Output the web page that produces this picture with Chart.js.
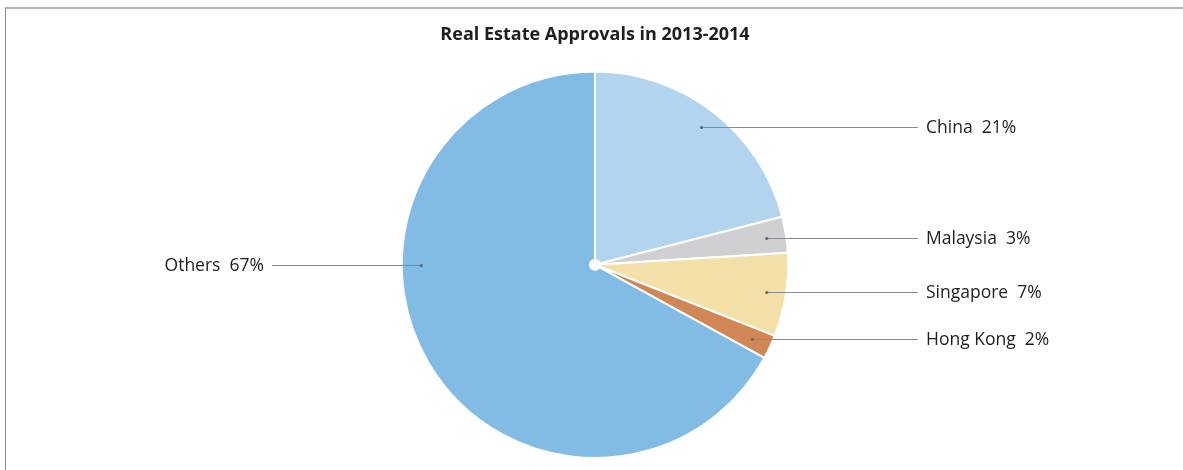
<!DOCTYPE html>
<html>
<head>
<meta charset="utf-8">
<title>Real Estate Approvals in 2013-2014</title>
<script src="https://cdn.jsdelivr.net/npm/chart.js@4"></script>
<style>
  html, body { margin: 0; padding: 0; background: #fff; }
  #frame {
    position: absolute;
    left: 5px;
    top: 7px;
    width: 1180px;
    height: 463px;
    border-top: 2px solid #b4b4b4;
    border-left: 1px solid #8c8c8c;
  }
  #box { position: relative; width: 1180px; height: 461px; }
</style>
</head>
<body>
<div id="frame"><div id="box"><canvas id="approvalsChart"></canvas></div></div>
<script>
const categories = ["China", "Malaysia", "Singapore", "Hong Kong", "Others"];
const shares = [21, 3, 7, 2, 67]; // percent of approvals

// leader lines + labels, drawn next to the slices
const leaderLabels = {
  id: "leaderLabels",
  afterDatasetsDraw(chart, args, opts) {
    const ctx = chart.ctx;
    const meta = chart.getDatasetMeta(0);
    let cx = 0, cy = 0;
    ctx.save();
    ctx.font = opts.font;
    ctx.textBaseline = "middle";
    meta.data.forEach((arc, i) => {
      const p = arc.getProps(["x", "y", "startAngle", "endAngle", "outerRadius"], true);
      cx = p.x;
      cy = p.y;
      let mid = (p.startAngle + p.endAngle) / 2;
      if (opts.level.includes(i)) mid = Math.PI; // run level with the centre
      const r = p.outerRadius * 0.9;
      const px = p.x + Math.cos(mid) * r;
      const py = p.y + Math.sin(mid) * r;
      const right = Math.cos(mid) >= 0;
      const end = right ? p.x + opts.reach : p.x - opts.reach;

      ctx.strokeStyle = "#8a8a8a";
      ctx.lineWidth = 1;
      ctx.beginPath();
      ctx.moveTo(px, Math.round(py) + 0.5);
      ctx.lineTo(end, Math.round(py) + 0.5);
      ctx.stroke();

      ctx.fillStyle = "#666";
      ctx.beginPath();
      ctx.arc(px, Math.round(py) + 0.5, 1.6, 0, Math.PI * 2);
      ctx.fill();

      const text = categories[i] + "  " + shares[i] + "%";
      ctx.fillStyle = "#1e1e1e";
      ctx.textAlign = right ? "left" : "right";
      ctx.fillText(text, right ? end + 8 : end - 8, Math.round(py) + 1);
    });
    // white hub in the middle
    ctx.fillStyle = "#fff";
    ctx.beginPath();
    ctx.arc(cx, cy, 6, 0, Math.PI * 2);
    ctx.fill();
    ctx.restore();
  },
};

const ctx = document.getElementById("approvalsChart").getContext("2d");
new Chart(ctx, {
  type: "pie",
  data: {
    labels: categories,
    datasets: [
      {
        data: shares,
        backgroundColor: ["#b3d4ee", "#d0d0d2", "#f2e0a8", "#d08655", "#82bce4"],
        borderColor: "#ffffff",
        borderWidth: 2,
      },
    ],
  },
  options: {
    responsive: true,
    maintainAspectRatio: false,
    animation: false,
    layout: { padding: { bottom: 11, left: 0, right: 2 } },
    plugins: {
      legend: { display: false },
      tooltip: { enabled: false },
      title: {
        display: true,
        text: "Real Estate Approvals in 2013-2014",
        color: "#1e1e1e",
        font: { family: "'Open Sans', sans-serif", size: 18, weight: "bold" },
        padding: { top: 15, bottom: 25 },
      },
      leaderLabels: {
        font: "17.5px 'Open Sans', sans-serif",
        reach: 323,
        level: [4],
      },
    },
  },
  plugins: [leaderLabels],
});
</script>
</body>
</html>
